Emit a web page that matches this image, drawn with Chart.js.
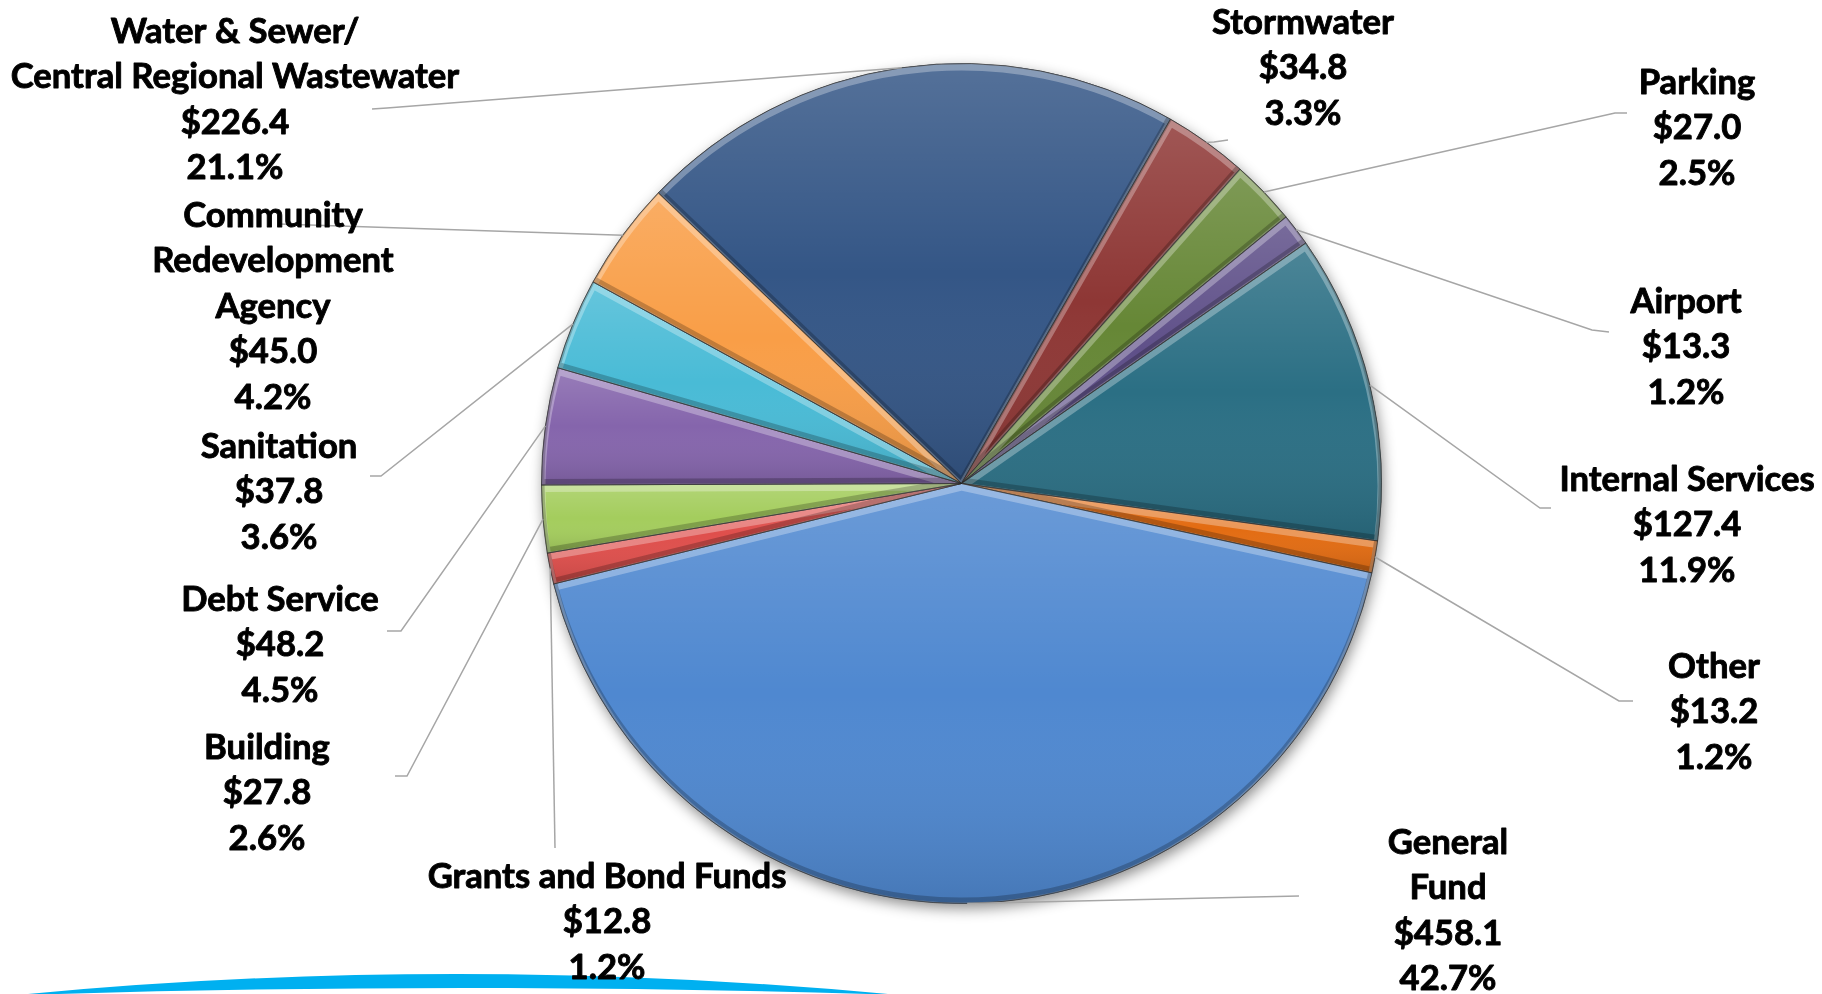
<!DOCTYPE html>
<html><head><meta charset="utf-8">
<script src="https://cdn.jsdelivr.net/npm/chart.js@4/dist/chart.umd.min.js"></script>
<style>
html,body{margin:0;padding:0;background:#fff;width:1822px;height:994px;overflow:hidden}
#wrap{position:relative;width:1822px;height:994px}
#wrap canvas,#wrap svg{position:absolute;left:0;top:0}
</style></head><body>
<div id="wrap">
<svg width="1822" height="994"><path d="M 28 994 Q 455 954 888 994 L 868 994 Q 462 982 58 994 Z" fill="#00B0F0"/></svg>
<canvas id="c" width="1822" height="994"></canvas>
</div>
<script>
// ---- data ----
const categories = [
  ["Water & Sewer/", "Central Regional Wastewater"],
  ["Stormwater"],
  ["Parking"],
  ["Airport"],
  ["Internal Services"],
  ["Other"],
  ["General", "Fund"],
  ["Grants and Bond Funds"],
  ["Building"],
  ["Debt Service"],
  ["Sanitation"],
  ["Community", "Redevelopment", "Agency"]
];
const values   = [226.4, 34.8, 27.0, 13.3, 127.4, 13.2, 458.1, 12.8, 27.8, 48.2, 37.8, 45.0];
const percents = [21.1, 3.3, 2.5, 1.2, 11.9, 1.2, 42.7, 1.2, 2.6, 4.5, 3.6, 4.2];

// ---- style / layout ----
const colors = ['#345686','#8E3735','#668736','#5F5089','#2B6F84','#E36C12','#4F88D0','#DF4F4C','#A4CD5D','#8565AC','#49BBD6','#F99E47'];
const labelPos = [[235,43],[1303,34],[1697,94],[1686,313],[1687,491],[1714,678],[1448,854],[607,888],[267,759],[280,611],[279,458],[273,227]];
const leaderPts = [
  [[387,108],[372,109]],
  [[1214,142],[1228,140]],
  [[1615,113],[1627,113]],
  [[1592,330],[1609,332]],
  [[1540,508],[1551,508]],
  [[1619,701],[1633,701]],
  [[1299,896]],
  [[555,848]],
  [[407,776],[395,776]],
  [[401,631],[387,631]],
  [[381,476],[370,476]],
  [[279,224]]
];
const LINE_H = 45.4;
const FONT = 'bold 35px Lato, "Open Sans", sans-serif';
const SX = 0.99;

function slicePath(ctx, p, dx, dy) {
  ctx.beginPath();
  ctx.moveTo(p.x + dx, p.y + dy);
  ctx.arc(p.x + dx, p.y + dy, p.outerRadius, p.startAngle, p.endAngle);
  ctx.closePath();
}

const fx = {
  id: 'fx',
  beforeDatasetsDraw(chart) {
    const ctx = chart.ctx;
    const a = chart.getDatasetMeta(0).data[0];
    if (!a) return;
    ctx.save();
    ctx.beginPath();
    ctx.arc(a.x, a.y, a.outerRadius, 0, Math.PI * 2);
    ctx.shadowColor = 'rgba(0,0,0,0.45)';
    ctx.shadowBlur = 14;
    ctx.shadowOffsetX = 2;
    ctx.shadowOffsetY = 5;
    ctx.fillStyle = '#666';
    ctx.fill();
    ctx.restore();
  },
  afterDatasetsDraw(chart) {
    const ctx = chart.ctx;
    chart.getDatasetMeta(0).data.forEach((el) => {
      const p = el.getProps(['x','y','startAngle','endAngle','outerRadius'], true);
      let yMin = p.y, yMax = p.y;
      for (let i = 0; i <= 40; i++) {
        const t = p.startAngle + (p.endAngle - p.startAngle) * i / 40;
        const yy = p.y + p.outerRadius * Math.sin(t);
        yMin = Math.min(yMin, yy); yMax = Math.max(yMax, yy);
      }
      ctx.save();
      slicePath(ctx, p, 0, 0);
      ctx.clip();
      const g = ctx.createLinearGradient(0, yMin, 0, yMax);
      g.addColorStop(0, 'rgba(255,255,255,0.16)');
      g.addColorStop(0.5, 'rgba(255,255,255,0)');
      g.addColorStop(1, 'rgba(0,0,0,0.12)');
      ctx.fillStyle = g;
      ctx.fillRect(p.x - p.outerRadius - 5, yMin - 5, p.outerRadius * 2 + 10, yMax - yMin + 10);
      ctx.lineJoin = 'round';
      slicePath(ctx, p, 0, 3);
      ctx.strokeStyle = 'rgba(255,255,255,0.30)';
      ctx.lineWidth = 8;
      ctx.stroke();
      slicePath(ctx, p, 0, -3);
      ctx.strokeStyle = 'rgba(0,0,0,0.22)';
      ctx.lineWidth = 6;
      ctx.stroke();
      ctx.restore();
      ctx.save();
      slicePath(ctx, p, 0, 0);
      ctx.strokeStyle = 'rgba(30,30,30,0.45)';
      ctx.lineWidth = 1;
      ctx.stroke();
      ctx.restore();
    });
  },
  afterDraw(chart) {
    const ctx = chart.ctx;
    const data = chart.getDatasetMeta(0).data;
    ctx.save();
    ctx.strokeStyle = '#A6A6A6';
    ctx.lineWidth = 1.5;
    data.forEach((el, i) => {
      const p = el.getProps(['x','y','startAngle','endAngle','outerRadius'], true);
      const m = (p.startAngle + p.endAngle) / 2;
      ctx.beginPath();
      ctx.moveTo(p.x + p.outerRadius * Math.cos(m), p.y + p.outerRadius * Math.sin(m));
      leaderPts[i].forEach(pt => ctx.lineTo(pt[0], pt[1]));
      ctx.stroke();
    });
    ctx.restore();
    ctx.save();
    ctx.fillStyle = '#000';
    ctx.strokeStyle = '#000';
    ctx.lineWidth = 0.9;
    ctx.lineJoin = 'round';
    ctx.font = FONT;
    ctx.textAlign = 'center';
    ctx.textBaseline = 'alphabetic';
    chart.data.labels.forEach((lab, i) => {
      const lines = lab.concat(['$' + values[i].toFixed(1), percents[i].toFixed(1) + '%']);
      lines.forEach((ln, k) => {
        ctx.save();
        ctx.translate(labelPos[i][0], labelPos[i][1] + k * LINE_H);
        ctx.scale(SX, 1);
        ctx.fillText(ln, 0, 0);
        ctx.strokeText(ln, 0, 0);
        ctx.restore();
      });
    });
    ctx.restore();
  }
};

new Chart(document.getElementById('c'), {
  type: 'pie',
  data: {
    labels: categories,
    datasets: [{
      data: values,
      backgroundColor: colors,
      borderColor: 'rgba(40,40,40,0.5)',
      borderWidth: 1,
      hoverOffset: 0,
      offset: 0
    }]
  },
  options: {
    responsive: false,
    devicePixelRatio: 1,
    animation: false,
    events: [],
    rotation: -46.2,
    layout: { padding: { left: 541, right: 440, top: 63, bottom: 90 } },
    plugins: { legend: { display: false }, tooltip: { enabled: false } }
  },
  plugins: [fx]
});
</script>
</body></html>
